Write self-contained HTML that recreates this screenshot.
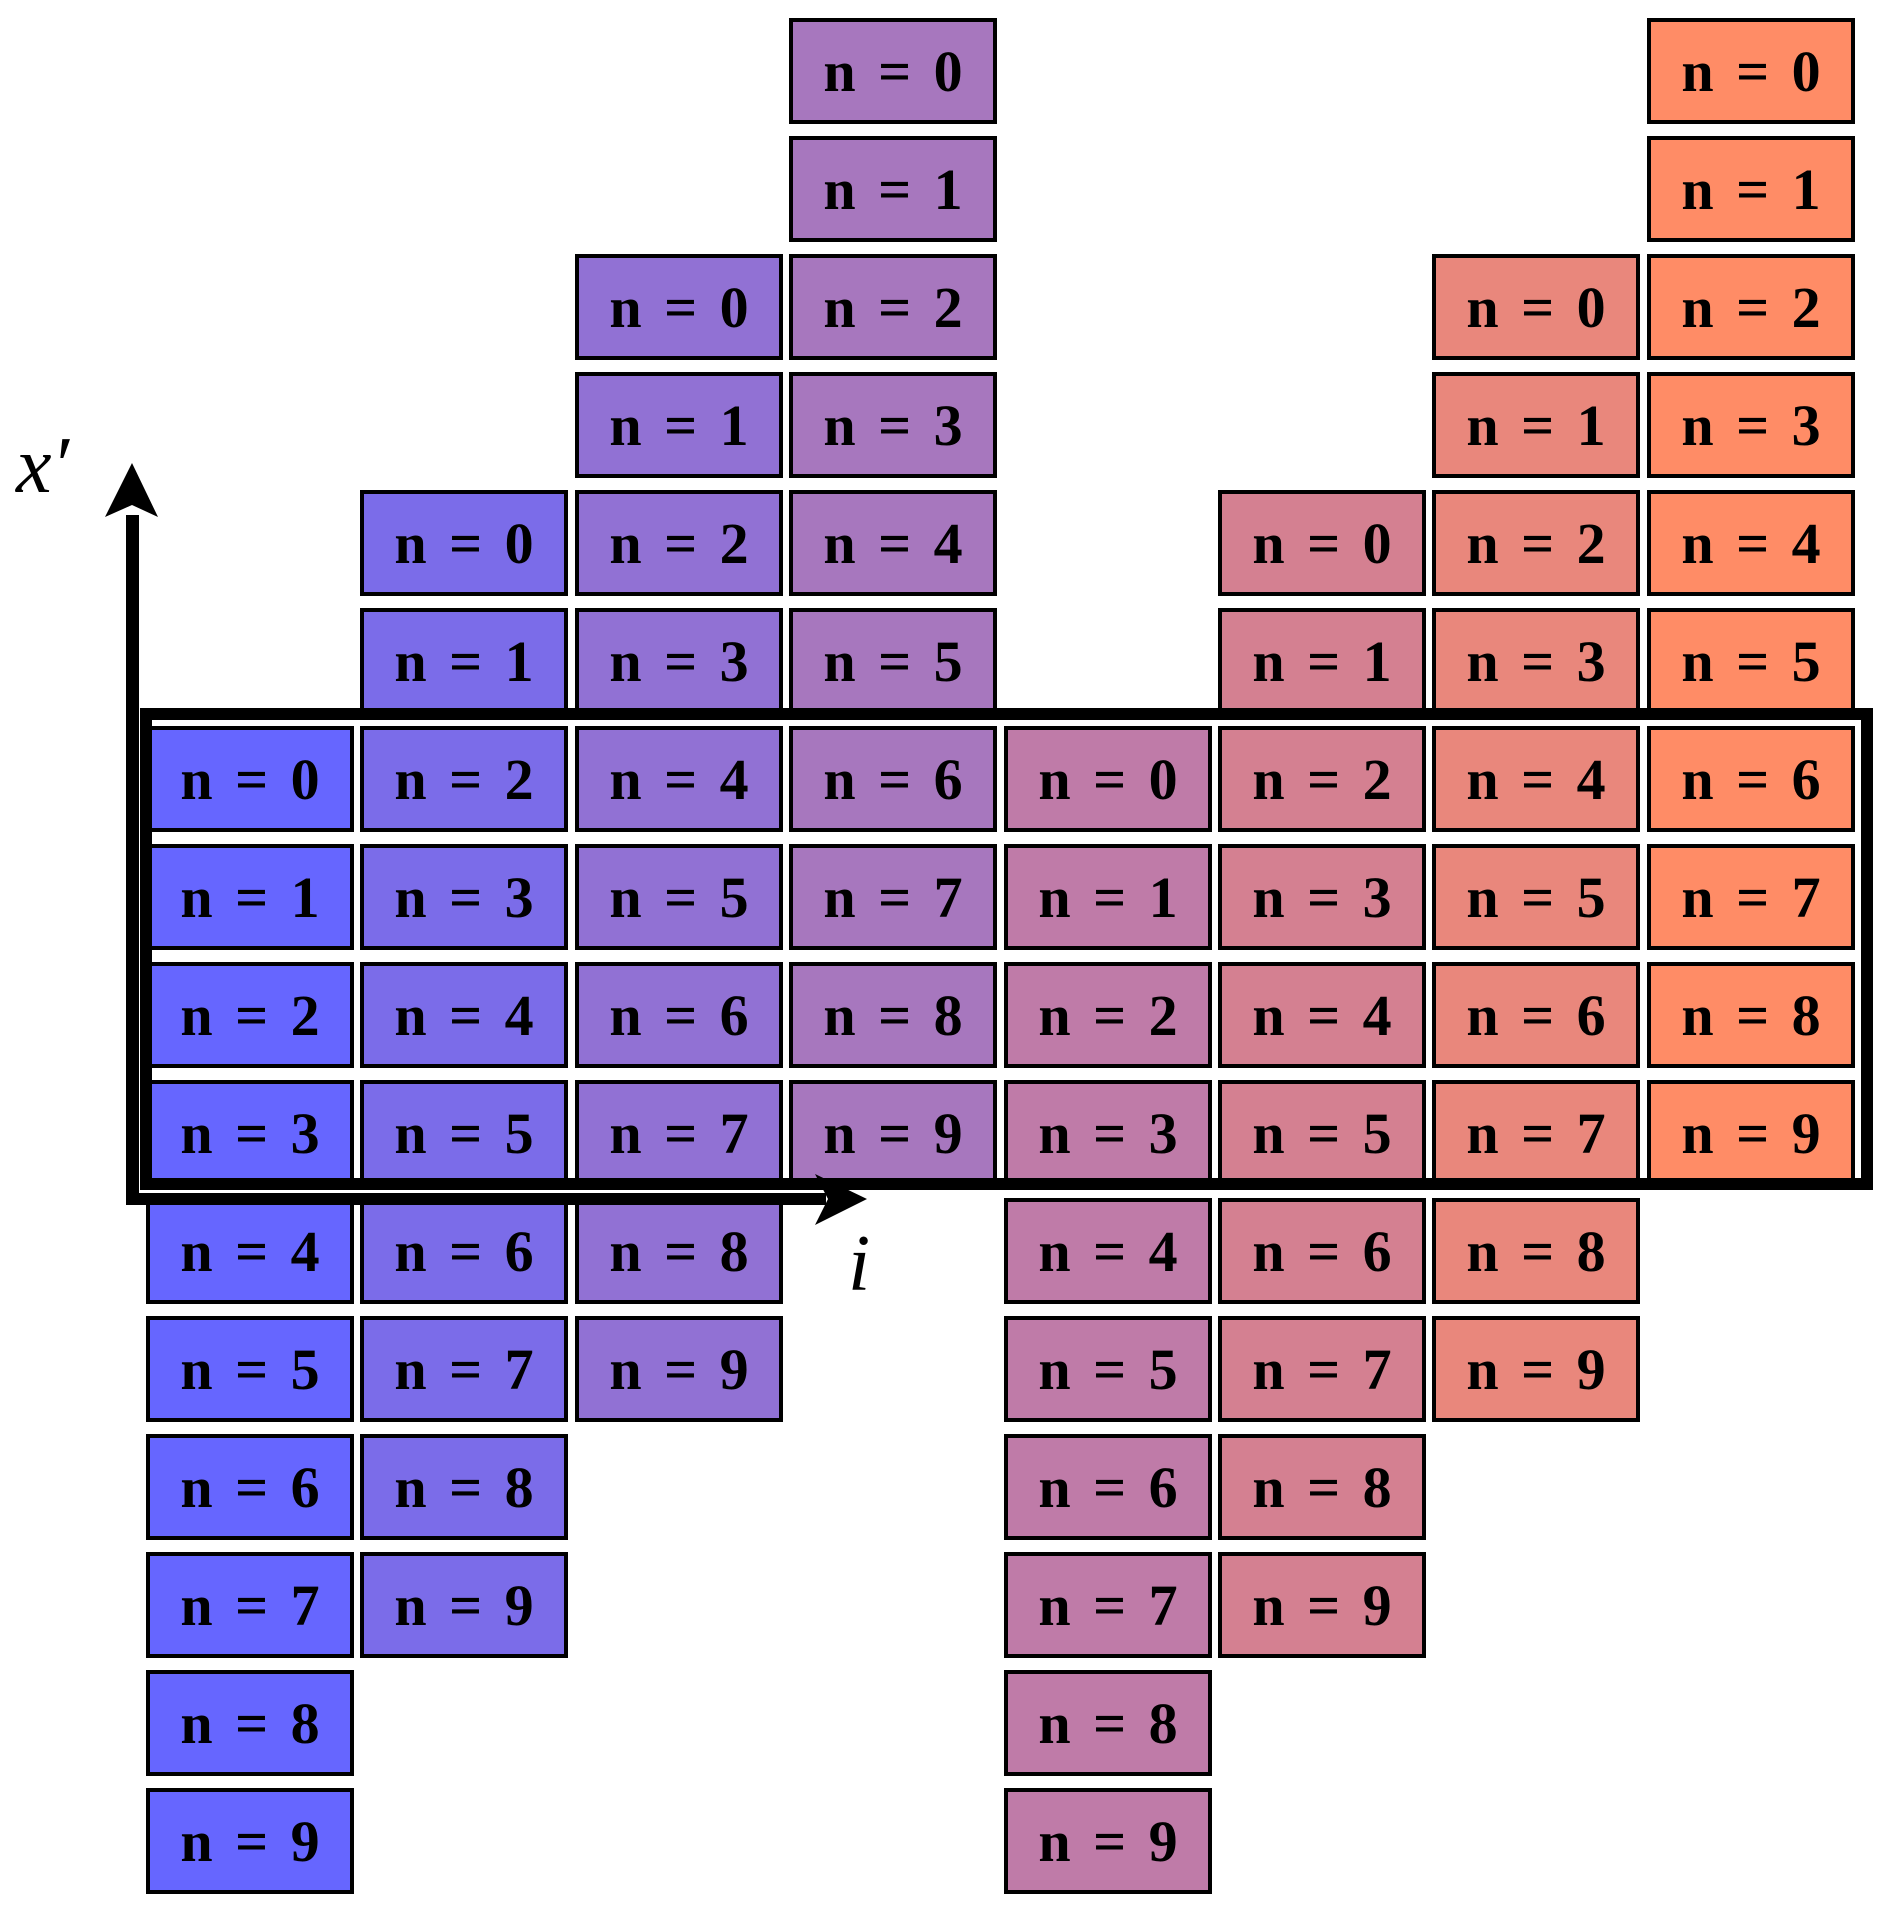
<!DOCTYPE html>
<html><head><meta charset="utf-8"><style>
html,body{margin:0;padding:0;background:#fff;}
svg{display:block;}
.t{font-family:"Liberation Serif",serif;font-weight:bold;font-size:58px;fill:#000;text-anchor:middle;word-spacing:8px;}
rect.b{stroke:#000;stroke-width:4;}
</style></head><body>
<svg width="1892" height="1913" viewBox="0 0 1892 1913" xmlns="http://www.w3.org/2000/svg">
<g transform="translate(146,726)" fill="#6666ff">
<rect class="b" x="2" y="2" width="204" height="102"/><text class="t" x="104" y="73">n = 0</text>
<rect class="b" x="2" y="120" width="204" height="102"/><text class="t" x="104" y="191">n = 1</text>
<rect class="b" x="2" y="238" width="204" height="102"/><text class="t" x="104" y="309">n = 2</text>
<rect class="b" x="2" y="356" width="204" height="102"/><text class="t" x="104" y="427">n = 3</text>
<rect class="b" x="2" y="474" width="204" height="102"/><text class="t" x="104" y="545">n = 4</text>
<rect class="b" x="2" y="592" width="204" height="102"/><text class="t" x="104" y="663">n = 5</text>
<rect class="b" x="2" y="710" width="204" height="102"/><text class="t" x="104" y="781">n = 6</text>
<rect class="b" x="2" y="828" width="204" height="102"/><text class="t" x="104" y="899">n = 7</text>
<rect class="b" x="2" y="946" width="204" height="102"/><text class="t" x="104" y="1017">n = 8</text>
<rect class="b" x="2" y="1064" width="204" height="102"/><text class="t" x="104" y="1135">n = 9</text>
</g>
<g transform="translate(360,490)" fill="#7b6ce9">
<rect class="b" x="2" y="2" width="204" height="102"/><text class="t" x="104" y="73">n = 0</text>
<rect class="b" x="2" y="120" width="204" height="102"/><text class="t" x="104" y="191">n = 1</text>
<rect class="b" x="2" y="238" width="204" height="102"/><text class="t" x="104" y="309">n = 2</text>
<rect class="b" x="2" y="356" width="204" height="102"/><text class="t" x="104" y="427">n = 3</text>
<rect class="b" x="2" y="474" width="204" height="102"/><text class="t" x="104" y="545">n = 4</text>
<rect class="b" x="2" y="592" width="204" height="102"/><text class="t" x="104" y="663">n = 5</text>
<rect class="b" x="2" y="710" width="204" height="102"/><text class="t" x="104" y="781">n = 6</text>
<rect class="b" x="2" y="828" width="204" height="102"/><text class="t" x="104" y="899">n = 7</text>
<rect class="b" x="2" y="946" width="204" height="102"/><text class="t" x="104" y="1017">n = 8</text>
<rect class="b" x="2" y="1064" width="204" height="102"/><text class="t" x="104" y="1135">n = 9</text>
</g>
<g transform="translate(575,254)" fill="#9171d4">
<rect class="b" x="2" y="2" width="204" height="102"/><text class="t" x="104" y="73">n = 0</text>
<rect class="b" x="2" y="120" width="204" height="102"/><text class="t" x="104" y="191">n = 1</text>
<rect class="b" x="2" y="238" width="204" height="102"/><text class="t" x="104" y="309">n = 2</text>
<rect class="b" x="2" y="356" width="204" height="102"/><text class="t" x="104" y="427">n = 3</text>
<rect class="b" x="2" y="474" width="204" height="102"/><text class="t" x="104" y="545">n = 4</text>
<rect class="b" x="2" y="592" width="204" height="102"/><text class="t" x="104" y="663">n = 5</text>
<rect class="b" x="2" y="710" width="204" height="102"/><text class="t" x="104" y="781">n = 6</text>
<rect class="b" x="2" y="828" width="204" height="102"/><text class="t" x="104" y="899">n = 7</text>
<rect class="b" x="2" y="946" width="204" height="102"/><text class="t" x="104" y="1017">n = 8</text>
<rect class="b" x="2" y="1064" width="204" height="102"/><text class="t" x="104" y="1135">n = 9</text>
</g>
<g transform="translate(789,18)" fill="#a777be">
<rect class="b" x="2" y="2" width="204" height="102"/><text class="t" x="104" y="73">n = 0</text>
<rect class="b" x="2" y="120" width="204" height="102"/><text class="t" x="104" y="191">n = 1</text>
<rect class="b" x="2" y="238" width="204" height="102"/><text class="t" x="104" y="309">n = 2</text>
<rect class="b" x="2" y="356" width="204" height="102"/><text class="t" x="104" y="427">n = 3</text>
<rect class="b" x="2" y="474" width="204" height="102"/><text class="t" x="104" y="545">n = 4</text>
<rect class="b" x="2" y="592" width="204" height="102"/><text class="t" x="104" y="663">n = 5</text>
<rect class="b" x="2" y="710" width="204" height="102"/><text class="t" x="104" y="781">n = 6</text>
<rect class="b" x="2" y="828" width="204" height="102"/><text class="t" x="104" y="899">n = 7</text>
<rect class="b" x="2" y="946" width="204" height="102"/><text class="t" x="104" y="1017">n = 8</text>
<rect class="b" x="2" y="1064" width="204" height="102"/><text class="t" x="104" y="1135">n = 9</text>
</g>
<g transform="translate(1004,726)" fill="#bf7ba8">
<rect class="b" x="2" y="2" width="204" height="102"/><text class="t" x="104" y="73">n = 0</text>
<rect class="b" x="2" y="120" width="204" height="102"/><text class="t" x="104" y="191">n = 1</text>
<rect class="b" x="2" y="238" width="204" height="102"/><text class="t" x="104" y="309">n = 2</text>
<rect class="b" x="2" y="356" width="204" height="102"/><text class="t" x="104" y="427">n = 3</text>
<rect class="b" x="2" y="474" width="204" height="102"/><text class="t" x="104" y="545">n = 4</text>
<rect class="b" x="2" y="592" width="204" height="102"/><text class="t" x="104" y="663">n = 5</text>
<rect class="b" x="2" y="710" width="204" height="102"/><text class="t" x="104" y="781">n = 6</text>
<rect class="b" x="2" y="828" width="204" height="102"/><text class="t" x="104" y="899">n = 7</text>
<rect class="b" x="2" y="946" width="204" height="102"/><text class="t" x="104" y="1017">n = 8</text>
<rect class="b" x="2" y="1064" width="204" height="102"/><text class="t" x="104" y="1135">n = 9</text>
</g>
<g transform="translate(1218,490)" fill="#d48091">
<rect class="b" x="2" y="2" width="204" height="102"/><text class="t" x="104" y="73">n = 0</text>
<rect class="b" x="2" y="120" width="204" height="102"/><text class="t" x="104" y="191">n = 1</text>
<rect class="b" x="2" y="238" width="204" height="102"/><text class="t" x="104" y="309">n = 2</text>
<rect class="b" x="2" y="356" width="204" height="102"/><text class="t" x="104" y="427">n = 3</text>
<rect class="b" x="2" y="474" width="204" height="102"/><text class="t" x="104" y="545">n = 4</text>
<rect class="b" x="2" y="592" width="204" height="102"/><text class="t" x="104" y="663">n = 5</text>
<rect class="b" x="2" y="710" width="204" height="102"/><text class="t" x="104" y="781">n = 6</text>
<rect class="b" x="2" y="828" width="204" height="102"/><text class="t" x="104" y="899">n = 7</text>
<rect class="b" x="2" y="946" width="204" height="102"/><text class="t" x="104" y="1017">n = 8</text>
<rect class="b" x="2" y="1064" width="204" height="102"/><text class="t" x="104" y="1135">n = 9</text>
</g>
<g transform="translate(1432,254)" fill="#e9877c">
<rect class="b" x="2" y="2" width="204" height="102"/><text class="t" x="104" y="73">n = 0</text>
<rect class="b" x="2" y="120" width="204" height="102"/><text class="t" x="104" y="191">n = 1</text>
<rect class="b" x="2" y="238" width="204" height="102"/><text class="t" x="104" y="309">n = 2</text>
<rect class="b" x="2" y="356" width="204" height="102"/><text class="t" x="104" y="427">n = 3</text>
<rect class="b" x="2" y="474" width="204" height="102"/><text class="t" x="104" y="545">n = 4</text>
<rect class="b" x="2" y="592" width="204" height="102"/><text class="t" x="104" y="663">n = 5</text>
<rect class="b" x="2" y="710" width="204" height="102"/><text class="t" x="104" y="781">n = 6</text>
<rect class="b" x="2" y="828" width="204" height="102"/><text class="t" x="104" y="899">n = 7</text>
<rect class="b" x="2" y="946" width="204" height="102"/><text class="t" x="104" y="1017">n = 8</text>
<rect class="b" x="2" y="1064" width="204" height="102"/><text class="t" x="104" y="1135">n = 9</text>
</g>
<g transform="translate(1647,18)" fill="#ff8c66">
<rect class="b" x="2" y="2" width="204" height="102"/><text class="t" x="104" y="73">n = 0</text>
<rect class="b" x="2" y="120" width="204" height="102"/><text class="t" x="104" y="191">n = 1</text>
<rect class="b" x="2" y="238" width="204" height="102"/><text class="t" x="104" y="309">n = 2</text>
<rect class="b" x="2" y="356" width="204" height="102"/><text class="t" x="104" y="427">n = 3</text>
<rect class="b" x="2" y="474" width="204" height="102"/><text class="t" x="104" y="545">n = 4</text>
<rect class="b" x="2" y="592" width="204" height="102"/><text class="t" x="104" y="663">n = 5</text>
<rect class="b" x="2" y="710" width="204" height="102"/><text class="t" x="104" y="781">n = 6</text>
<rect class="b" x="2" y="828" width="204" height="102"/><text class="t" x="104" y="899">n = 7</text>
<rect class="b" x="2" y="946" width="204" height="102"/><text class="t" x="104" y="1017">n = 8</text>
<rect class="b" x="2" y="1064" width="204" height="102"/><text class="t" x="104" y="1135">n = 9</text>
</g>
<rect x="146" y="714" width="1721" height="470" fill="none" stroke="#000" stroke-width="12"/>
<rect x="126" y="515" width="13" height="690" fill="#000"/>
<rect x="126" y="1193" width="700" height="12" fill="#000"/>
<polygon points="132,463 105,517 132,505 158,517" fill="#000"/>
<polygon points="867,1199 815,1174 828,1199 815,1225" fill="#000"/>
<text x="16" y="492" font-family="Liberation Serif,serif" font-style="italic" font-size="80">x′</text>
<text x="848" y="1290" font-family="Liberation Serif,serif" font-style="italic" font-size="80">i</text>
</svg>
</body></html>
